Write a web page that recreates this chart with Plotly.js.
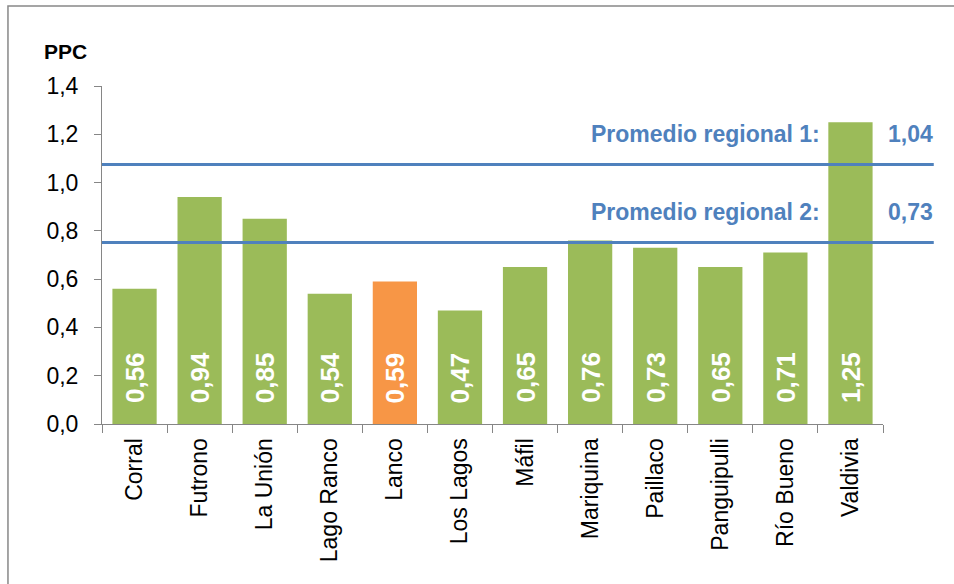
<!DOCTYPE html>
<html>
<head>
<meta charset="utf-8">
<script src="https://cdn.plot.ly/plotly-3.0.1.min.js"></script>
<style>html,body{margin:0;padding:0;background:#fff;}#chart{width:954px;height:584px;}</style>
</head>
<body>
<div id="chart"></div>
<script>
const categories = ['Corral','Futrono','La Unión','Lago Ranco','Lanco','Los Lagos','Máfil','Mariquina','Paillaco','Panguipulli','Río Bueno','Valdivia'];
const values = [0.56, 0.94, 0.85, 0.54, 0.59, 0.47, 0.65, 0.76, 0.73, 0.65, 0.71, 1.25];
const highlighted = 'Lanco';
const averageNames = ['Promedio regional 1:', 'Promedio regional 2:'];
const averageLabels = ['1,04', '0,73'];
const averageLineY = [1.075, 0.752];
const yTickVals = [0, 0.2, 0.4, 0.6, 0.8, 1.0, 1.2, 1.4];
const yTickText = ['0,0','0,2','0,4','0,6','0,8','1,0','1,2','1,4'];

const GREEN = '#9BBB59', ORANGE = '#F79646', BLUE = '#4F81BD', AXIS = '#868686';
const FONT = 'Liberation Sans, Arial, sans-serif';
const fmt = v => v.toFixed(2).replace('.', ',');

const trace = {
  type: 'bar',
  x: categories,
  y: values,
  marker: { color: categories.map(c => c === highlighted ? ORANGE : GREEN) },
  hoverinfo: 'skip'
};

const annotations = [];
categories.forEach((c, i) => {
  annotations.push({
    x: c, y: 0, xref: 'x', yref: 'y',
    text: '<b>' + fmt(values[i]) + '</b>', showarrow: false,
    textangle: -90, xanchor: 'center', yanchor: 'bottom', yshift: 19,
    font: { family: FONT, size: 26, color: '#ffffff' }
  });
});
const shapes = [];
averageLineY.forEach((yv, i) => {
  shapes.push({ type: 'line', xref: 'paper', yref: 'y', x0: 0, x1: 1.065, y0: yv, y1: yv,
    line: { color: BLUE, width: 3 }, layer: 'above' });
  annotations.push({ xref: 'paper', yref: 'y', x: 0.9219, y: yv, yshift: 30, xanchor: 'right', yanchor: 'middle',
    text: '<b>' + averageNames[i] + '</b>', showarrow: false,
    font: { family: FONT, size: 23, color: BLUE } });
  annotations.push({ xref: 'paper', yref: 'y', x: 1.0666, y: yv, yshift: 30, xanchor: 'right', yanchor: 'middle',
    text: '<b>' + averageLabels[i] + '</b>', showarrow: false,
    font: { family: FONT, size: 23, color: BLUE } });
});
annotations.push({ xref: 'paper', yref: 'paper', x: -0.0765, y: 1.102, xanchor: 'left', yanchor: 'middle',
  text: '<b>PPC</b>', showarrow: false,
  font: { family: FONT, size: 21, color: '#000' } });

// outer chart frame
shapes.push({ type: 'rect', xref: 'paper', yref: 'paper', x0: -0.1204, x1: 1.2, y0: -0.6, y1: 1.2367,
  line: { color: '#888888', width: 1.5 }, fillcolor: 'rgba(0,0,0,0)', layer: 'below' });

const layout = {
  width: 954, height: 584,
  margin: { l: 102, r: 71, t: 86, b: 160 },
  paper_bgcolor: '#ffffff', plot_bgcolor: '#ffffff',
  showlegend: false,
  bargap: 0.32,
  font: { family: FONT, color: '#000' },
  xaxis: {
    type: 'category', tickangle: -90, showgrid: false, zeroline: false,
    showline: true, linecolor: AXIS, linewidth: 1,
    ticks: 'outside', tickson: 'boundaries', ticklen: 8, tickcolor: AXIS, tickwidth: 1,
    tickfont: { size: 23, family: FONT, color: '#000' },
    ticklabelstandoff: 4
  },
  yaxis: {
    range: [0, 1.4], tickvals: yTickVals, ticktext: yTickText,
    showgrid: false, zeroline: false, showline: true, linecolor: AXIS, linewidth: 1,
    ticks: 'outside', ticklen: 7, tickcolor: AXIS, tickwidth: 1,
    tickfont: { size: 23, family: FONT, color: '#000' },
    ticklabelstandoff: 11
  },
  shapes: shapes,
  annotations: annotations
};

Plotly.newPlot('chart', [trace], layout, { displayModeBar: false, staticPlot: true });
</script>
</body>
</html>
